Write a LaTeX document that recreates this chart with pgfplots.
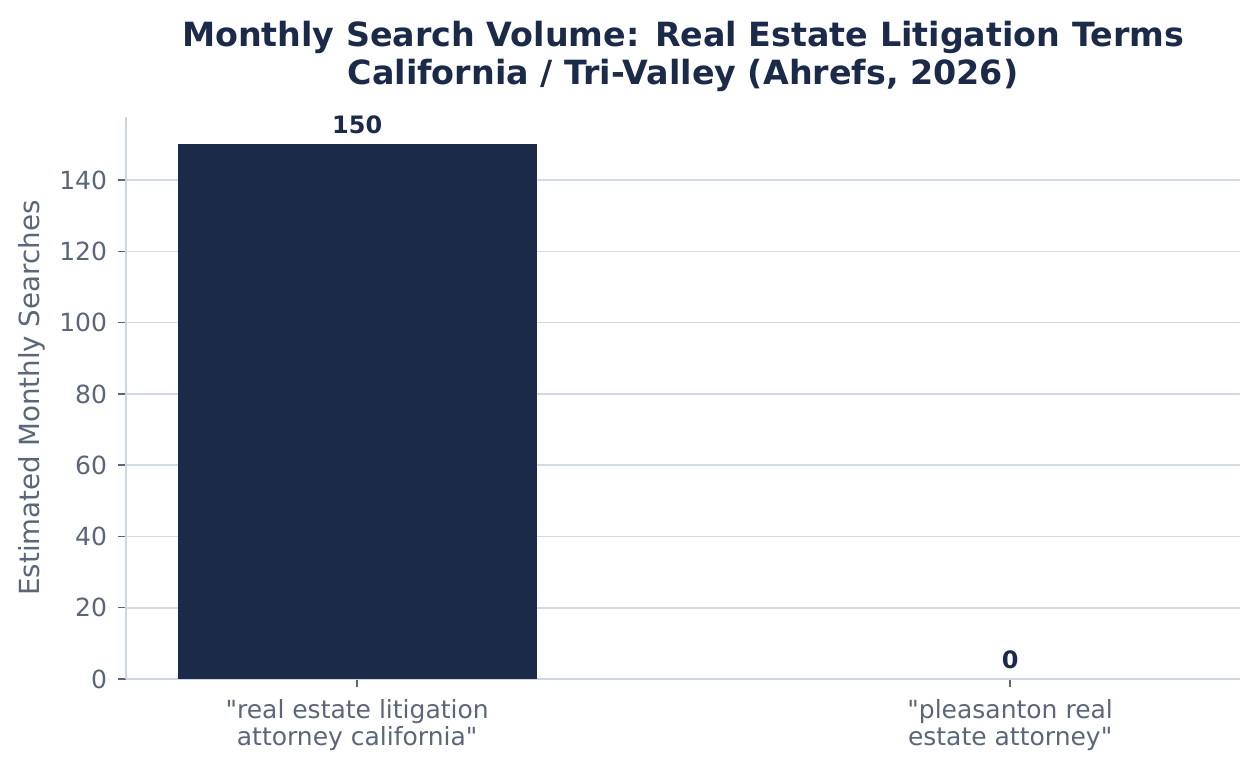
\documentclass[border=0pt]{standalone}
\usepackage{fontspec}
\setmainfont{DejaVu Sans}
\usepackage{pgfplots}
\pgfplotsset{compat=1.18}
\definecolor{navy}{HTML}{1C2A4A}
\definecolor{tickgray}{HTML}{5B6678}
\definecolor{gridc}{HTML}{D3DAE5}
\definecolor{spinec}{HTML}{CED6E1}

\begin{document}
\begin{tikzpicture}
\path[use as bounding box] (-60.48pt,-43.68pt) rectangle (544.32pt,325.92pt);
\begin{axis}[
    at={(0,0)}, anchor=south west,
    scale only axis, width=534.72pt, height=269.76pt,
    xmin=-0.354, xmax=1.352, ymin=0, ymax=157.7,
    ybar, bar width=0.55, bar shift=0pt,
    axis x line*=bottom, axis y line*=left,
    axis line style={draw=spinec, line width=0.75pt, -},
    xtick={0,1},
    xticklabels={{\textquotedbl real estate litigation\\attorney california\textquotedbl},{\textquotedbl pleasanton real\\estate attorney\textquotedbl}},
    ytick={0,20,...,140},
    tick align=outside, major tick length=3.6pt,
    tick style={draw=tickgray, line width=0.7pt},
    xticklabel style={align=center, text=tickgray, font=\fontsize{12}{13}\selectfont, yshift=-2.5pt},
    yticklabel style={text=tickgray, font=\fontsize{12}{13}\selectfont, xshift=-2pt},
    /pgf/number format/assume math mode=true,
    ymajorgrids, grid style={draw=gridc, line width=0.75pt},
    ylabel={Estimated Monthly Searches},
    ylabel style={text=tickgray, font=\fontsize{13.3}{15}\selectfont, yshift=-0.3pt},
    title={Monthly Search Volume: Real Estate Litigation Terms\\California / Tri-Valley (Ahrefs, 2026)},
    title style={align=center, font=\bfseries\fontsize{16}{18.2}\selectfont, text=navy, at={(0.5,1)}, anchor=south, yshift=2.7pt},
    nodes near coords,
    nodes near coords style={font=\bfseries\fontsize{11.5}{13}\selectfont, text=navy, yshift=1.5pt},
]
% monthly searches per term; the zero-volume term is drawn without fill
\addplot[fill=navy, draw=none] coordinates {(0,150)};
\addplot[fill=none, draw=none] coordinates {(1,0)};
\end{axis}
\end{tikzpicture}
\end{document}
